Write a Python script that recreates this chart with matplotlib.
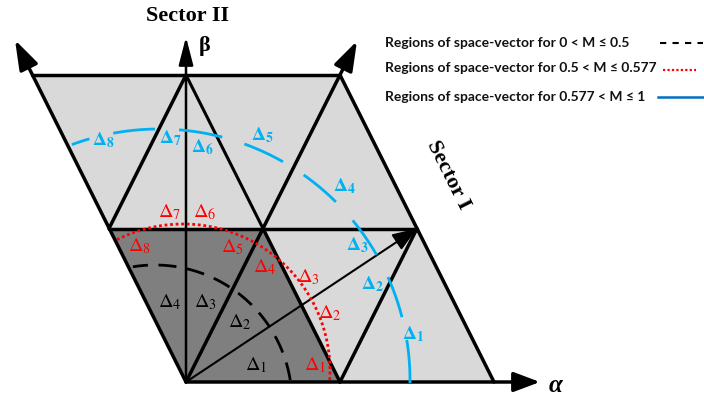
import numpy as np
import matplotlib.pyplot as plt
from matplotlib.patches import Polygon, FancyArrowPatch
import matplotlib as mpl

mpl.rcParams["mathtext.fontset"] = "stix"

# ---- lattice of the space-vector diagram (drawn in pixel units, y down) ----
ORIGIN = (186.0, 382.0)
SIDE = 154.0      # base of one small triangle
RISE = 153.5      # height of one triangle row

C_LIGHT = "#D9D9D9"
C_DARK = "#7F7F7F"
C_BLUE = "#00B0F0"
C_BLUE_LEG = "#0070C0"
C_RED = "#FF0000"

# modulation-index boundary arcs: centre, radius, start/end angle (deg)
BLACK_ARC_CENTER = (155.0, 402.0)
BLACK_ARC_RADIUS = 137.0
BLACK_ARC_SPAN = (9.2, 99.3)

RED_ARC_CENTER = (183.0, 371.0)
RED_ARC_RADIUS = 147.0
RED_ARC_SPAN = (-3.5, 117.0)

BLUE_ARC_CENTER = (159.0, 380.0)
BLUE_ARC_RADIUS = 251.0
BLUE_ARC_PIECES = [(-0.7, 9.2), (14.5, 24.2), (29.9, 39.5), (45.2, 54.8),
                   (60.4, 70.1), (75.4, 85.4), (90.9, 100.5), (106.1, 110.3)]

# region labels
BLACK_IDX = [1, 2, 3, 4]
BLACK_X = [256, 240, 205, 170]
BLACK_Y = [365, 322, 302, 302]

RED_IDX = [1, 2, 3, 4, 5, 6, 7, 8]
RED_X = [315, 330, 308, 265, 233, 205, 170, 140]
RED_Y = [365, 313, 277, 267, 247, 212, 212, 246]

BLUE_IDX = [1, 2, 3, 4, 5, 6, 7, 8]
BLUE_X = [413, 372, 357, 344, 262, 202, 170, 103]
BLUE_Y = [334, 284, 245, 186, 135, 147, 138, 140]

LEGEND_TEXT = ["Regions of space-vector for 0 < M \u2264 0.5",
               "Regions of space-vector for 0.5 < M \u2264 0.577",
               "Regions of space-vector for 0.577 < M \u2264 1"]


def node(i, j):
    return (ORIGIN[0] + SIDE * (i + 0.5 * j), ORIGIN[1] - RISE * j)


def seg(ax, a, b, lw=2.5, color="black"):
    ax.plot([a[0], b[0]], [a[1], b[1]], color=color, lw=lw,
            solid_capstyle="round", zorder=3)


def arc(ax, center, r, t0, t1, **kw):
    t = np.radians(np.linspace(t0, t1, 200))
    ax.plot(center[0] + r * np.cos(t), center[1] - r * np.sin(t), **kw)


def arrow(ax, p0, p1, lw=2.5, hl=0.8, hw=0.3, ms=20):
    a = FancyArrowPatch(p0, p1, arrowstyle=f"-|>,head_length={hl},head_width={hw}",
                        mutation_scale=ms, lw=lw, color="black",
                        shrinkA=0, shrinkB=0, zorder=4)
    ax.add_patch(a)


fig = plt.figure(figsize=(7.04, 4.0), dpi=100)
ax = fig.add_axes([0, 0, 1, 1])
ax.set_xlim(0, 704)
ax.set_ylim(400, 0)
ax.axis("off")

# shaded regions
ax.add_patch(Polygon([node(0, 0), node(2, 0), node(0, 2), node(-2, 2)],
                     closed=True, fc=C_LIGHT, ec="none", zorder=1))
ax.add_patch(Polygon([node(0, 0), node(1, 0), node(0, 1), node(-1, 1)],
                     closed=True, fc=C_DARK, ec="none", zorder=1))

# triangle edges
seg(ax, node(-2, 2), node(0, 2))
seg(ax, node(0, 2), node(2, 0))
seg(ax, node(-1, 1), node(1, 1))
seg(ax, node(1, 0), node(0, 1))
seg(ax, node(1, 0), node(1, 1))
seg(ax, node(-1, 1), node(-1, 2))
seg(ax, node(-1, 2), node(0, 1), lw=2.2)

# axes: alpha, beta and the two 60-degree boundaries
arrow(ax, node(0, 0), (540, ORIGIN[1]))
arrow(ax, node(0, 0), (ORIGIN[0], 37), lw=1.8, hl=0.85, hw=0.22)
arrow(ax, node(0, 0), (15, 40), hl=0.9)
arrow(ax, node(0, 0), (357, 41), hl=0.9)

# reference space vector
arrow(ax, node(0, 0), node(1, 1), lw=1.5, hl=0.75, hw=0.28)

# boundary arcs
arc(ax, BLACK_ARC_CENTER, BLACK_ARC_RADIUS, *BLACK_ARC_SPAN,
    color="black", lw=2.0, ls=(0, (6.5, 3.8)), zorder=5)
arc(ax, RED_ARC_CENTER, RED_ARC_RADIUS, *RED_ARC_SPAN,
    color=C_RED, lw=2.0, ls=(0, (1.0, 1.0)), zorder=5)
for t0, t1 in BLUE_ARC_PIECES:
    arc(ax, BLUE_ARC_CENTER, BLUE_ARC_RADIUS, t0, t1,
        color=C_BLUE, lw=2.0, solid_capstyle="butt", zorder=5)

# region labels
for k, x, y in zip(BLACK_IDX, BLACK_X, BLACK_Y):
    ax.text(x, y, rf"$\Delta_{{\mathit{{{k}}}}}$", color="black", fontsize=14.5,
            ha="center", va="center", zorder=6)
for k, x, y in zip(RED_IDX, RED_X, RED_Y):
    ax.text(x, y, rf"$\Delta_{{\mathit{{{k}}}}}$", color=C_RED, fontsize=14.5,
            ha="center", va="center", zorder=6)
for k, x, y in zip(BLUE_IDX, BLUE_X, BLUE_Y):
    ax.text(x, y, rf"$\mathbf{{\Delta_{{{k}}}}}$", color=C_BLUE, fontsize=14,
            ha="center", va="center", zorder=6)

# axis / sector names
serif = "Liberation Serif"
ax.text(188, 16, "Sector II", family=serif, fontweight="bold", fontsize=16,
        ha="center", va="center")
ax.text(205, 46, "\u03b2", family=serif, fontweight="bold", fontsize=16,
        ha="center", va="center")
ax.text(556, 385, "\u03b1", family=serif, fontweight="bold", style="italic",
        fontsize=18, ha="center", va="center")
ax.text(448, 175, "Sector I", family=serif, fontweight="bold", fontsize=16,
        ha="center", va="center", rotation=-63.4, rotation_mode="anchor")

# legend
leg_y = [43, 68, 97]
for txt, y in zip(LEGEND_TEXT, leg_y):
    ax.text(385, y, txt, family="Lato", fontweight="bold", fontsize=10,
            ha="left", va="center", color="#111111")
ax.plot([660, 703], [43, 43], color="black", lw=1.5, ls=(0, (3, 3)))
ax.plot([663, 696], [70, 70], color=C_RED, lw=1.6, ls=(0, (1, 1)))
ax.plot([658, 703], [97, 97], color=C_BLUE_LEG, lw=1.8)

fig.savefig("out.png", dpi=100, facecolor="white")
